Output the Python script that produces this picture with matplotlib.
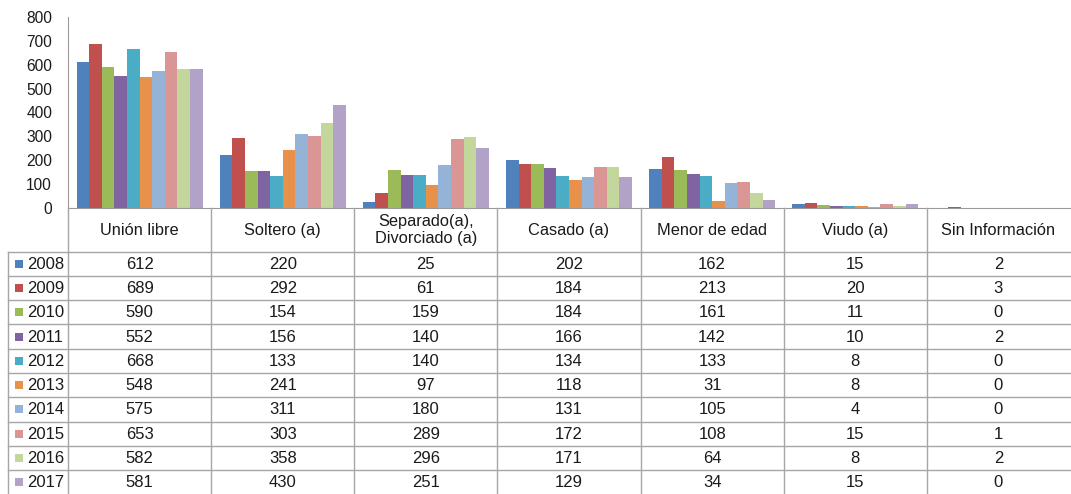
import matplotlib
matplotlib.use("Agg")
import numpy as np
import matplotlib.pyplot as plt
from matplotlib.patches import Rectangle

plt.rcParams["font.family"] = ["Liberation Sans", "DejaVu Sans"]

categories = ["Unión libre", "Soltero (a)", "Separado(a),\nDivorciado (a)", "Casado (a)",
              "Menor de edad", "Viudo (a)", "Sin Información"]
years = ["2008", "2009", "2010", "2011", "2012", "2013", "2014", "2015", "2016", "2017"]

v2008 = [612, 220, 25, 202, 162, 15, 2]
v2009 = [689, 292, 61, 184, 213, 20, 3]
v2010 = [590, 154, 159, 184, 161, 11, 0]
v2011 = [552, 156, 140, 166, 142, 10, 2]
v2012 = [668, 133, 140, 134, 133, 8, 0]
v2013 = [548, 241, 97, 118, 31, 8, 0]
v2014 = [575, 311, 180, 131, 105, 4, 0]
v2015 = [653, 303, 289, 172, 108, 15, 1]
v2016 = [582, 358, 296, 171, 64, 8, 2]
v2017 = [581, 430, 251, 129, 34, 15, 0]
series = [v2008, v2009, v2010, v2011, v2012, v2013, v2014, v2015, v2016, v2017]

colors = ["#4F81BD", "#C0504D", "#9BBB59", "#8064A2", "#4BACC6", "#E8914A",
          "#95B3D7", "#D99694", "#C3D69B", "#B3A2C7"]

W, H = 1071, 494
fig = plt.figure(figsize=(W / 100, H / 100), dpi=100)
txt = "#1a1a1a"

# plot area in pixel coords
x0, x1 = 68, 1070
ytop, ybase = 17, 208
ax = fig.add_axes([x0 / W, (H - ybase) / H, (x1 - x0) / W, (ybase - ytop) / H])
n_cat = len(categories)
n_ser = len(series)
x = np.arange(n_cat)
bw = 0.88 / n_ser
for i, vals in enumerate(series):
    ax.bar(x - 0.44 + bw * (i + 0.5), vals, bw, color=colors[i], linewidth=0)
ax.set_xlim(-0.5, n_cat - 0.5)
ax.set_ylim(0, 800)
ax.set_yticks(range(0, 801, 100))
ax.tick_params(axis="y", length=0, pad=11.5, labelsize=11.2, labelcolor=txt)
ax.tick_params(axis="x", length=0, labelbottom=False)
for s in ["top", "right"]:
    ax.spines[s].set_visible(False)
ax.spines["left"].set_color("#9a9a9a")
ax.spines["bottom"].set_color("#9a9a9a")

# data table drawn in pixel coordinates
tab = fig.add_axes([0, 0, 1, 1])
tab.set_xlim(0, W)
tab.set_ylim(H, 0)
tab.axis("off")
lc = "#a6a6a6"
col_w = (x1 - x0) / n_cat
hdr_bot = 251.5
row_h = 24.3
label_left = 8

# header row
for j in range(n_cat):
    xx = x0 + j * col_w
    tab.plot([xx, xx], [ybase, hdr_bot], color=lc, lw=1)
tab.plot([x0, W], [hdr_bot, hdr_bot], color=lc, lw=1)
for j, c in enumerate(categories):
    tab.text(x0 + (j + 0.5) * col_w, (ybase + hdr_bot) / 2 + 0.5, c, ha="center", va="center",
             fontsize=11.8, color=txt, linespacing=1.2)

# body rows
n_rows = len(years)
tab.plot([label_left, label_left], [hdr_bot, hdr_bot + n_rows * row_h], color=lc, lw=1)
for j in range(n_cat):
    xx = x0 + j * col_w
    tab.plot([xx, xx], [hdr_bot, hdr_bot + n_rows * row_h], color=lc, lw=1)
for r in range(n_rows):
    yt = hdr_bot + r * row_h
    yc = yt + row_h / 2
    if r > 0:
        tab.plot([label_left, W], [yt, yt], color=lc, lw=1)
    else:
        tab.plot([label_left, x0], [yt, yt], color=lc, lw=1)
    tab.add_patch(Rectangle((15, yc - 4), 8, 8, color=colors[r], lw=0))
    tab.text(27, yc + 0.5, years[r], ha="left", va="center", fontsize=12, color=txt)
    for j in range(n_cat):
        tab.text(x0 + (j + 0.5) * col_w, yc + 0.5, str(series[r][j]), ha="center", va="center",
                 fontsize=12, color=txt)

fig.savefig("out.png", dpi=100)
